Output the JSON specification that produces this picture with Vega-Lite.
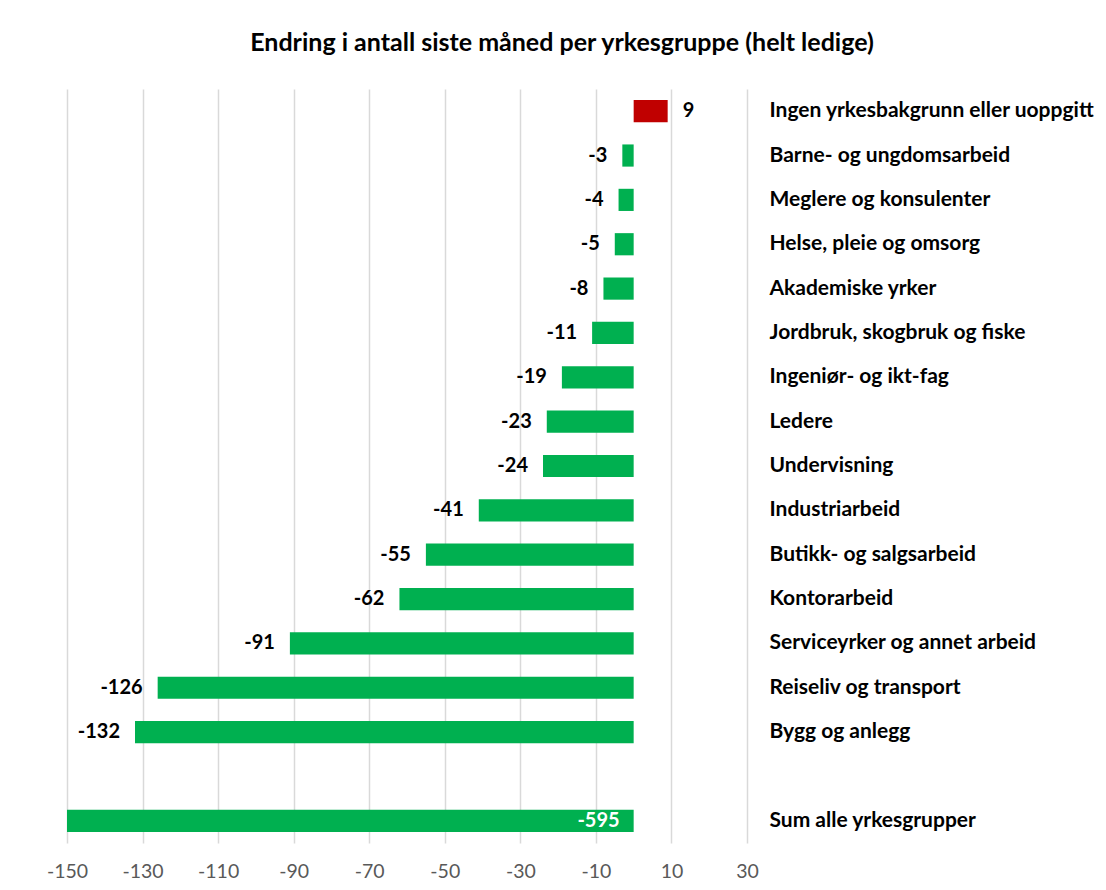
{
  "$schema": "https://vega.github.io/schema/vega-lite/v6.json",
  "width": 680,
  "height": 754,
  "autosize": {"type": "none"},
  "padding": {"left": 67, "top": 89, "right": 359, "bottom": 47},
  "background": "white",
  "title": {
    "text": "Endring i antall siste måned per yrkesgruppe (helt ledige)",
    "anchor": "middle",
    "dx": 155,
    "offset": 13,
    "baseline": "alphabetic",
    "font": "Lato",
    "fontSize": 25,
    "fontWeight": "bold",
    "color": "#000000"
  },
  "config": {"view": {"stroke": null}},
  "data": {
    "values": [
      {"gruppe": "Ingen yrkesbakgrunn eller uoppgitt", "verdi": 9},
      {"gruppe": "Barne- og ungdomsarbeid", "verdi": -3},
      {"gruppe": "Meglere og konsulenter", "verdi": -4},
      {"gruppe": "Helse, pleie og omsorg", "verdi": -5},
      {"gruppe": "Akademiske yrker", "verdi": -8},
      {"gruppe": "Jordbruk, skogbruk og fiske", "verdi": -11},
      {"gruppe": "Ingeniør- og ikt-fag", "verdi": -19},
      {"gruppe": "Ledere", "verdi": -23},
      {"gruppe": "Undervisning", "verdi": -24},
      {"gruppe": "Industriarbeid", "verdi": -41},
      {"gruppe": "Butikk- og salgsarbeid", "verdi": -55},
      {"gruppe": "Kontorarbeid", "verdi": -62},
      {"gruppe": "Serviceyrker og annet arbeid", "verdi": -91},
      {"gruppe": "Reiseliv og transport", "verdi": -126},
      {"gruppe": "Bygg og anlegg", "verdi": -132},
      {"gruppe": "Sum alle yrkesgrupper", "verdi": -595}
    ]
  },
  "encoding": {
    "y": {
      "field": "gruppe",
      "type": "nominal",
      "sort": null,
      "scale": {
        "domain": [
          "Ingen yrkesbakgrunn eller uoppgitt",
          "Barne- og ungdomsarbeid",
          "Meglere og konsulenter",
          "Helse, pleie og omsorg",
          "Akademiske yrker",
          "Jordbruk, skogbruk og fiske",
          "Ingeniør- og ikt-fag",
          "Ledere",
          "Undervisning",
          "Industriarbeid",
          "Butikk- og salgsarbeid",
          "Kontorarbeid",
          "Serviceyrker og annet arbeid",
          "Reiseliv og transport",
          "Bygg og anlegg",
          " ",
          "Sum alle yrkesgrupper"
        ],
        "paddingInner": 0.5,
        "paddingOuter": 0.25
      },
      "axis": {
        "orient": "right",
        "title": null,
        "domain": false,
        "ticks": false,
        "grid": false,
        "labelPadding": 22,
        "labelFont": "Lato",
        "labelFontSize": 21,
        "labelFontWeight": "bold",
        "labelColor": "#000000",
        "labelAlign": "left",
        "labelLimit": 0
      }
    }
  },
  "layer": [
    {
      "mark": {"type": "bar", "clip": true},
      "encoding": {
        "x": {
          "field": "verdi",
          "type": "quantitative",
          "scale": {"domain": [-150, 30], "nice": false, "zero": false},
          "axis": {
            "values": [-150, -130, -110, -90, -70, -50, -30, -10, 10, 30],
            "labelExpr": "'' + datum.value",
            "title": null,
            "domain": false,
            "ticks": false,
            "grid": true,
            "gridColor": "#D9D9D9",
            "gridWidth": 1.5,
            "labelFont": "Lato",
            "labelFontSize": 19.5,
            "labelColor": "#595959",
            "labelPadding": 19,
            "labelFlush": false
          }
        },
        "color": {
          "condition": {"test": "datum.verdi > 0", "value": "#C00000"},
          "value": "#00B050"
        }
      }
    },
    {
      "transform": [{"filter": "datum.verdi < 0 && datum.gruppe != 'Sum alle yrkesgrupper'"}],
      "mark": {"type": "text", "align": "right", "baseline": "middle", "dx": -15, "font": "Lato", "fontSize": 20, "fontWeight": "bold", "color": "#000000"},
      "encoding": {
        "x": {"field": "verdi", "type": "quantitative"},
        "text": {"field": "verdi", "type": "nominal"}
      }
    },
    {
      "transform": [{"filter": "datum.verdi > 0"}],
      "mark": {"type": "text", "align": "left", "baseline": "middle", "dx": 15, "font": "Lato", "fontSize": 20, "fontWeight": "bold", "color": "#000000"},
      "encoding": {
        "x": {"field": "verdi", "type": "quantitative"},
        "text": {"field": "verdi", "type": "nominal"}
      }
    },
    {
      "transform": [{"filter": "datum.gruppe == 'Sum alle yrkesgrupper'"}],
      "mark": {"type": "text", "align": "right", "baseline": "middle", "dx": -14, "font": "Lato", "fontSize": 20, "fontWeight": "bold", "color": "#FFFFFF"},
      "encoding": {
        "x": {"datum": 0},
        "text": {"field": "verdi", "type": "nominal"}
      }
    }
  ]
}
